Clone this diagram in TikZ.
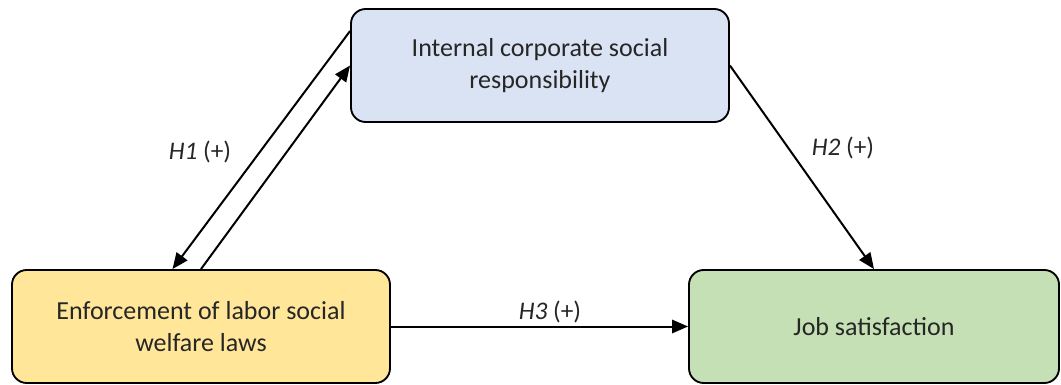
\documentclass[tikz,border=0pt]{standalone}
\usepackage{fontspec}
\setmainfont{Carlito}
\usetikzlibrary{calc,arrows.meta}
\definecolor{boxblue}{HTML}{DAE3F3}
\definecolor{boxyellow}{HTML}{FFE699}
\definecolor{boxgreen}{HTML}{C5E0B4}
\definecolor{txt}{HTML}{262626}
\tikzset{
  box/.style={draw=black, line width=1.4pt, rounded corners=11pt, align=center,
    text=txt, font=\fontsize{19.5}{24}\selectfont, minimum height=113*0.75pt, inner sep=0pt},
  conn/.style={line width=1.5pt, -{Triangle[length=12pt,width=10pt]}},
  lab/.style={text=txt, font=\fontsize{19}{23}\selectfont}
}
\begin{document}
\begin{tikzpicture}[x=0.75pt,y=-0.75pt]
\useasboundingbox (0,0) rectangle (1061,385);
\node[box, fill=boxblue, minimum width=378*0.75pt] (ics) at (540,65.5) {Internal corporate social\\responsibility};
\node[box, fill=boxyellow, minimum width=378*0.75pt] (enf) at (201,326.5) {Enforcement of labor social\\welfare laws};
\node[box, fill=boxgreen, minimum width=370*0.75pt] (job) at (874,326.5) {Job satisfaction};
\coordinate (a1s) at ($(ics.north west)!0.2!(ics.south west)$);
\coordinate (a1e) at ($(enf.north west)!0.425!(enf.north east)$);
\draw[conn] (a1s) -- (a1e);
\draw[conn] (enf.north) -- (ics.west);
\draw[conn] (ics.east) -- (job.north);
\draw[conn] (enf.east) -- (job.west);
\node[lab] (h1) at (200,152) {\textit{H1} (+)};
\node[lab] (h2) at (843,148) {\textit{H2} (+)};
\node[lab] (h3) at (550,312) {\textit{H3} (+)};
\end{tikzpicture}
\end{document}
